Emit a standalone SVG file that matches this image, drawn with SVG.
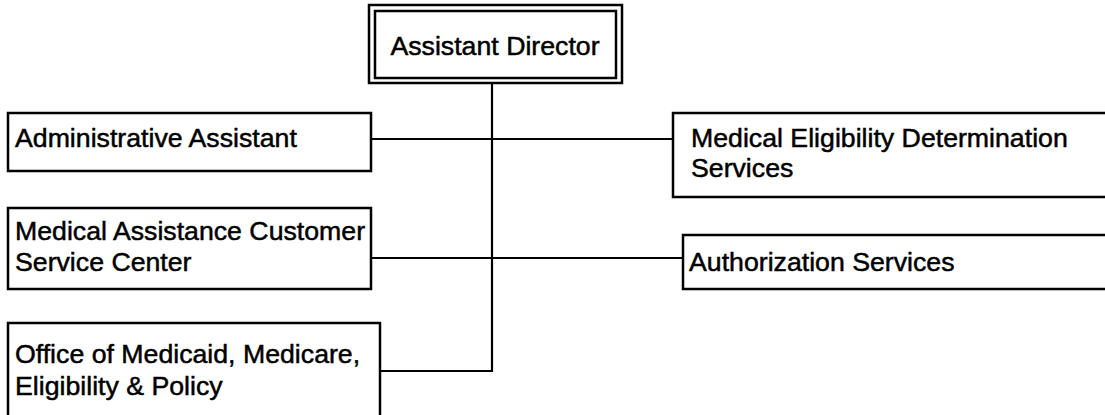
<svg xmlns="http://www.w3.org/2000/svg" width="1105" height="415" viewBox="0 0 1105 415">
<style>
.box{fill:#fff;stroke:#000;stroke-width:2.5}
.t{font-family:"Liberation Sans",Arial,sans-serif;font-size:26.7px;fill:#000;stroke:#000;stroke-width:0.5}
.c{fill:none;stroke:#000;stroke-width:2.2}
</style>
<rect width="1105" height="415" fill="#fff"/>
<g id="connectors">
<line class="c" x1="492" y1="82" x2="492" y2="372"/>
<line class="c" x1="380" y1="371" x2="493" y2="371"/>
<line class="c" x1="371" y1="139" x2="673" y2="139"/>
<line class="c" x1="371" y1="258" x2="683" y2="258"/>
</g>
<g id="assistant-director">
<rect class="box" x="369" y="5" width="253" height="78" stroke-width="2.8"/>
<rect class="box" x="375" y="11" width="241" height="67"/>
<text class="t" x="495" y="55" text-anchor="middle">Assistant Director</text>
</g>
<g id="administrative-assistant">
<rect class="box" x="8" y="113" width="363" height="58"/>
<text class="t" x="15" y="147">Administrative Assistant</text>
</g>
<g id="meds">
<rect class="box" x="673" y="113" width="440" height="84"/>
<text class="t" x="691" y="147">Medical Eligibility Determination</text>
<text class="t" x="691" y="177">Services</text>
</g>
<g id="macsc">
<rect class="box" x="8" y="208" width="363" height="81"/>
<text class="t" x="15" y="240">Medical Assistance Customer</text>
<text class="t" x="15" y="271">Service Center</text>
</g>
<g id="authorization-services">
<rect class="box" x="683" y="235" width="430" height="54"/>
<text class="t" x="689" y="271">Authorization Services</text>
</g>
<g id="office-mmep">
<rect class="box" x="8" y="323" width="372" height="100"/>
<text class="t" x="15" y="363">Office of Medicaid, Medicare,</text>
<text class="t" x="15" y="395">Eligibility &amp; Policy</text>
</g>
</svg>
